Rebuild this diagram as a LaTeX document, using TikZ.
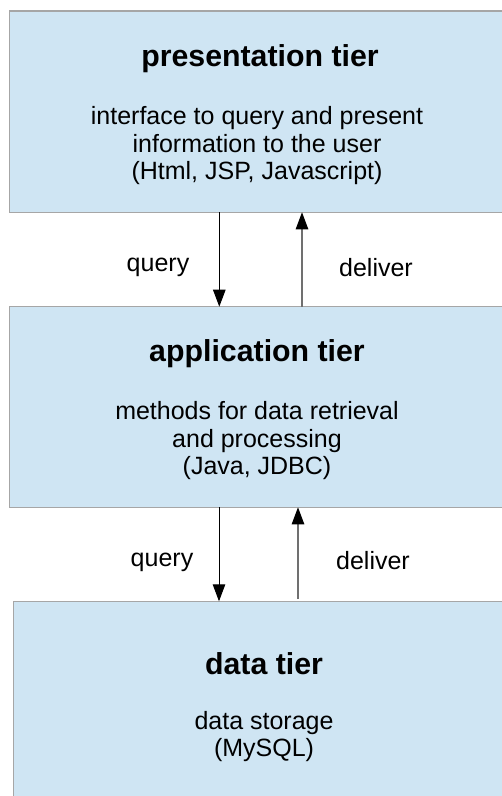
\documentclass[tikz,border=0pt]{standalone}
\usepackage{fontspec}
\setmainfont{Liberation Sans}
\usetikzlibrary{arrows.meta}
\definecolor{tierfill}{HTML}{CFE5F3}
\definecolor{tierline}{HTML}{A6A6A6}
\definecolor{backline}{HTML}{707070}
\begin{document}
\begin{tikzpicture}[x=1pt,y=-1pt,
  tierbox/.style={fill=tierfill,draw=tierline,line width=1.2pt},
  tiertitle/.style={font=\fontsize{30.3}{34}\selectfont\bfseries,inner sep=0pt},
  tiertext/.style={font=\fontsize{25}{27.5}\selectfont,align=center,inner sep=0pt},
  flowlabel/.style={font=\fontsize{25}{27.5}\selectfont,inner sep=0pt},
  tip/.style={-{Triangle[length=17pt,width=12.5pt,color=black]}},
  qarrow/.style={tip,draw=black,line width=1pt},
  darrow/.style={tip,draw=backline,line width=1.1pt}]
\useasboundingbox (0,0) rectangle (502,796);

% tier boxes (they run off the right and bottom edges)
\path[tierbox] (9.7,11) rectangle (504,212.3);
\path[tierbox] (9.7,306.7) rectangle (504,507.3);
\path[tierbox] (13.7,601.3) rectangle (504,800);

% anchor points on the box edges
\coordinate (p1q) at (219.3,212.3);
\coordinate (a1q) at (219.3,306.7);
\coordinate (p1d) at (302,212.3);
\coordinate (a1d) at (302,306.7);
\coordinate (a2q) at (219,507.3);
\coordinate (d2q) at (219,601.3);
\coordinate (a2d) at (298,507.3);
\coordinate (d2d) at (298,599);

% presentation tier
\node[tiertitle] (pt) at (260,59) {presentation tier};
\node[tiertext] (pd) at (257,146) {interface to query and present\\information to the user\\(Html, JSP, Javascript)};

% application tier
\node[tiertitle] (at) at (257,354) {application tier};
\node[tiertext] (ad) at (257,441) {methods for data retrieval\\and processing\\(Java, JDBC)};

% data tier
\node[tiertitle] (dt) at (264,664) {data tier};
\node[tiertext] (dd) at (264,736.5) {data storage\\(MySQL)};

% requests go down, results come back up
\draw[qarrow] (p1q) -- (a1q);
\draw[darrow] (a1d) -- (p1d);
\draw[qarrow] (a2q) -- (d2q);
\draw[darrow] (d2d) -- (a2d);

\node[flowlabel] (q1) at (158,267) {query};
\node[flowlabel] (l1) at (376,268) {deliver};
\node[flowlabel] (q2) at (162,562) {query};
\node[flowlabel] (l2) at (373,561) {deliver};
\end{tikzpicture}
\end{document}
